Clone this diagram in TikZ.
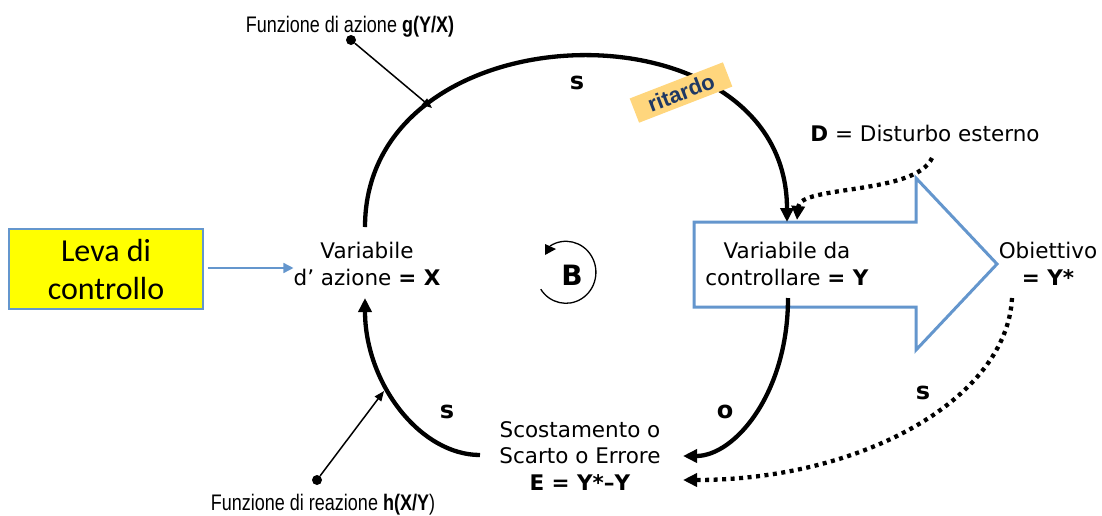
\documentclass[tikz,border=0pt]{standalone}
\usepackage{fontspec}
\setmainfont{DejaVu Sans}
\newfontfamily\calib{Carlito}
\newfontfamily\arialf{Liberation Sans}
\usetikzlibrary{arrows.meta}
\definecolor{loopblue}{RGB}{100,150,205}
\definecolor{levayellow}{RGB}{255,255,0}
\definecolor{tagfill}{RGB}{255,214,125}
\definecolor{tagtext}{RGB}{31,56,100}

\begin{document}
\begin{tikzpicture}[x=1pt,y=-1pt,
  lbl/.style={inner sep=0pt, align=center, font=\fontsize{21.5}{26.5}\selectfont},
  pol/.style={inner sep=0pt, font=\bfseries\fontsize{24}{24}\selectfont},
  loopline/.style={line width=4.3pt, -{Triangle[length=14pt,width=13pt]}},
  dotline/.style={line width=4.3pt, dash pattern=on 4pt off 4.5pt, -{Triangle[length=14pt,width=13pt]}},
  fnline/.style={line width=1.5pt, -{Triangle[length=10pt,width=8pt]}},
  fnlabel/.style={inner sep=0pt, anchor=base, xscale=0.8, font=\arialf\fontsize{22.5}{22.5}\selectfont},
  fndot/.style={circle, fill=black, inner sep=0pt, minimum size=10pt},
]
\path[use as bounding box] (0,0) rectangle (1102,515);

% control lever box and its link
\node[draw=loopblue, line width=1.2pt, fill=levayellow, minimum width=194pt, minimum height=80pt,
      align=center, font=\calib\fontsize{32}{38}\selectfont] (leva) at (106,269) {Leva di\\controllo};
\node[lbl] (varx) at (367,264) {Variabile\\d’ azione \textbf{= X}};
\draw[loopblue, line width=1.5pt, -{Triangle[length=10pt,width=10pt]}, shorten <=4pt]
  (leva.east |- 0,268) -- (varx.west |- 0,268);

% big outcome arrow
\draw[loopblue, line width=3pt, fill=white, line join=miter]
  (694,222) -- (916,222) -- (916,178) -- (997,264) -- (916,350) -- (916,307) -- (694,307) -- cycle;
\node[lbl] (vary) at (787,264) {Variabile da\\controllare \textbf{= Y}};
\node[lbl] (goal) at (1048,264) {Obiettivo\\\textbf{= Y*}};
\node[lbl, anchor=base] (dist) at (925,141) {\textbf{D} = Disturbo esterno};
\node[lbl] (err) at (580,456) {Scostamento o\\Scarto o Errore\\\textbf{E = Y*–Y}};

% loop end points
\coordinate (xtop) at (365,227);
\coordinate (ytop) at (787,222);
\coordinate (ybot) at (788,298);
\coordinate (eright) at (683,456);
\coordinate (eleft) at (480,455);
\coordinate (xbot) at (365,298);
\coordinate (ystar) at (1012,298);
\coordinate (edot) at (683,480);
\coordinate (dstart) at (932,158);
\coordinate (ytopd) at (797,220);
\coordinate (gtip) at (432,108);
\coordinate (htip) at (384,391);

% causal loop arcs
\draw[loopline] (xtop) .. controls +(0,-222) and +(0,-225) .. (ytop);
\draw[loopline] (ybot) .. controls +(0,95) and +(52,0) .. (eright);
\draw[loopline] (eleft) .. controls +(-60,0) and +(0,85) .. (xbot);
\draw[dotline] (ystar) .. controls +(-5,100) and +(180,0) .. (edot);
\draw[dotline] (dstart) .. controls (915,195) and (800,185) .. (ytopd);

% polarity labels
\node[pol] (s1) at (577,83) {s};
\node[pol] (s2) at (447,412) {s};
\node[pol] (o1) at (725,412) {o};
\node[pol] (s3) at (923,393) {s};

% delay tag
\node[rotate=21.2, fill=tagfill, minimum width=100pt, minimum height=26pt, inner sep=0pt,
      text=tagtext, font=\arialf\bfseries\fontsize{22}{22}\selectfont] (delay) at (681,92.5) {ritardo};

% action and reaction functions
\node[fndot] (gdot) at (351,40) {};
\node[fnlabel] (gtxt) at (350,32) {Funzione di azione \textbf{g(Y/X)}};
\draw[fnline] (gdot) -- (gtip);
\node[fndot] (hdot) at (317,480) {};
\node[fnlabel] (htxt) at (323,510) {Funzione di reazione \textbf{h(X/Y})};
\draw[fnline] (hdot) -- (htip);

% balancing loop marker
\node[inner sep=0pt, font=\bfseries\fontsize{28}{28}\selectfont] (bal) at (572,275) {B};
\draw[line width=1.3pt] (550,246) arc[start angle=122, end angle=-147, x radius=30pt, y radius=31pt];
\fill (545,244) -- (556,249) -- (545,255) -- cycle;
\end{tikzpicture}
\end{document}
